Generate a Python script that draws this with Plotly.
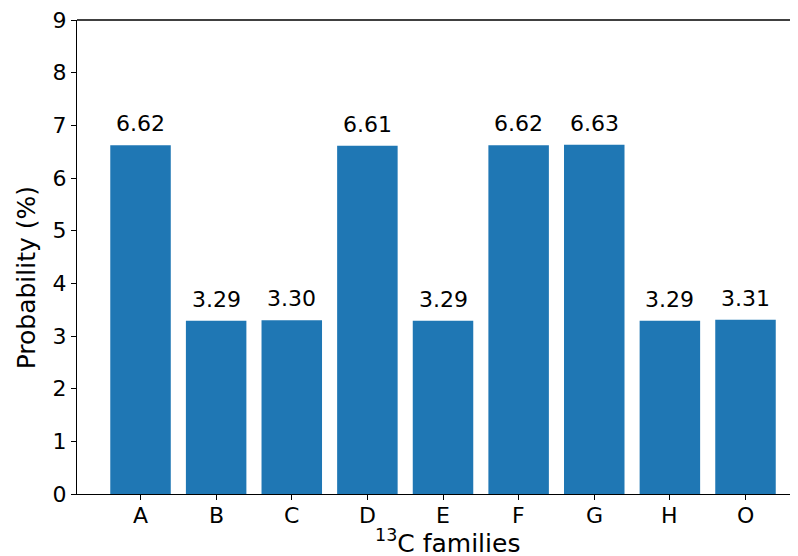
import plotly.graph_objects as go

categories = ["A", "B", "C", "D", "E", "F", "G", "H", "O"]
values = [6.62, 3.29, 3.30, 6.61, 3.29, 6.62, 6.63, 3.29, 3.31]
labels = [f"{v:.2f}" for v in values]

FONT = "DejaVu Sans"
xs = list(range(len(categories)))
fig = go.Figure(go.Bar(x=xs, y=values, width=0.8,
                       marker=dict(color="#1f77b4", line=dict(width=0))))

for i, (v, t) in enumerate(zip(values, labels)):
    fig.add_annotation(x=i, y=v, text=t, showarrow=False, yanchor="bottom",
                       yshift=7, font=dict(family=FONT, size=22, color="black"))

for i, c in zip(xs, categories):
    fig.add_annotation(x=i, y=0, yref="paper", text=c, showarrow=False,
                       yanchor="top", yshift=-7,
                       font=dict(family=FONT, size=22, color="black"))

# x axis title
fig.add_annotation(x=0.5, xref="paper", y=0, yref="paper", xshift=6,
                   text="<sup>13</sup>C families", showarrow=False,
                   yanchor="top", yshift=-29,
                   font=dict(family=FONT, size=25, color="black"))

# y axis title
fig.add_annotation(x=0, xref="paper", y=0.456, yref="paper", xshift=-50.5,
                   text="Probability (%)", showarrow=False, textangle=-90,
                   xanchor="center", yanchor="middle",
                   font=dict(family=FONT, size=25, color="black"))

fig.add_shape(type="line", xref="paper", yref="paper", x0=0, x1=1, y0=1, y1=1,
              line=dict(color="black", width=1.3))

fig.update_layout(
    width=798, height=556,
    margin=dict(l=69, r=0, t=10, b=70),
    plot_bgcolor="white", paper_bgcolor="white",
    font=dict(family=FONT, size=22, color="black"),
    showlegend=False,
    xaxis=dict(range=[-0.84, 8.80], tickmode="array",
               tickvals=xs, showticklabels=False,
               showline=True, linecolor="black", linewidth=1.3,
               ticks="outside", ticklen=5, tickcolor="black", tickwidth=1.3,
               showgrid=False, zeroline=False),
    yaxis=dict(range=[0, 9], dtick=1, showline=True, linecolor="black",
               linewidth=1.3, ticks="outside", ticklen=5, tickcolor="black",
               tickwidth=1.3, showgrid=False, zeroline=False,
               ticklabeloverflow="allow",
               tickfont=dict(family=FONT, size=22, color="black")),
)

fig.write_html("out.html")
